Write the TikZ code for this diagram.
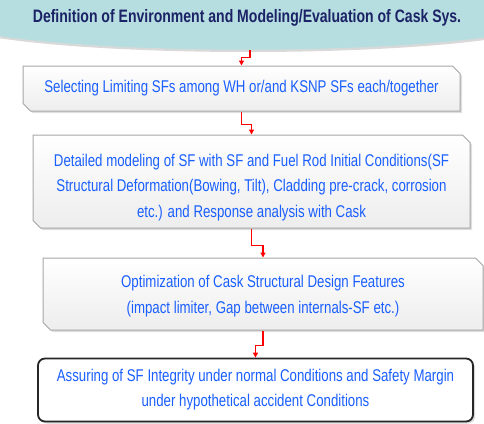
\documentclass[tikz,border=0pt]{standalone}
\usepackage{fontspec}
\setmainfont{Liberation Sans}
\newfontfamily\narrowfont{Liberation Sans}[FakeStretch=0.78]
\usetikzlibrary{positioning}
\usetikzlibrary{shapes.geometric}
\usetikzlibrary{shapes.misc}
\usetikzlibrary{shadows}
\usetikzlibrary{arrows.meta}
\definecolor{TitleTeal}{HTML}{B6DEE0}
\definecolor{TitleNavy}{HTML}{1B2266}
\definecolor{StepBlue}{HTML}{1A5FFF}
\definecolor{FlowRed}{HTML}{FF0000}
\tikzset{
  titlebox/.style={ellipse, fill=TitleTeal, draw=black!15, line width=0.6pt,
    minimum width=476pt, minimum height=64pt, inner sep=0pt,
    drop shadow={opacity=0.3, shadow xshift=1.5pt, shadow yshift=-2pt},
    font=\narrowfont\bfseries\fontsize{18}{20}\selectfont, text=TitleNavy},
  snipbox/.style={chamfered rectangle,
    chamfered rectangle corners={north east,south west},
    chamfered rectangle xsep=4pt,
    draw=black!35, line width=1pt,
    top color=white, bottom color=black!7,
    drop shadow={opacity=0.25, shadow xshift=2pt, shadow yshift=-2pt},
    inner sep=0pt, align=center, text=StepBlue,
    font=\narrowfont\fontsize{17}{25.5}\selectfont},
  goalbox/.style={rectangle, rounded corners=7pt, draw=black!85, line width=1.8pt,
    fill=white, drop shadow={opacity=0.3, shadow xshift=2pt, shadow yshift=-2pt},
    inner sep=0pt, align=center, text=StepBlue,
    font=\narrowfont\fontsize{17}{25}\selectfont},
  flow/.style={draw=FlowRed, line width=1.3pt, -{Triangle[length=5pt,width=5pt]}}
}
\begin{document}
\begin{tikzpicture}[x=1pt, y=-1pt]
  \useasboundingbox (0,0) rectangle (484,423);
  \clip (0,0) rectangle (484,423);

  % title and steps
  \node[titlebox] (title) at (247,18)
    {Definition of Environment and Modeling/Evaluation of Cask Sys.};
  \node[snipbox, minimum width=437pt, minimum height=45pt] (select) at (241.5,88.5)
    {Selecting Limiting SFs among WH or/and KSNP SFs each/together};
  \node[snipbox, minimum width=437pt, minimum height=93pt] (model) at (251.5,181.5)
    {\rule{0pt}{24pt}Detailed modeling of SF with SF and Fuel Rod Initial Conditions(SF\\
     Structural Deformation(Bowing, Tilt), Cladding pre-crack, corrosion\\
     etc.) and Response analysis with Cask};
  \node[snipbox, minimum width=440pt, minimum height=72pt] (optim) at (263,294)
    {\rule{0pt}{17pt}Optimization of Cask Structural Design Features\\
     (impact limiter, Gap between internals-SF etc.)};
  \node[goalbox, minimum width=435pt, minimum height=63pt] (assure) at (255.5,390)
    {Assuring of SF Integrity under normal Conditions and Safety Margin\\
     under hypothetical accident Conditions};

  % connectors
  \draw[flow] ([xshift=3pt]title.south) -- ++(0,7) -| (select.north);
  \draw[flow] (select.south) -- ++(0,13) -| (model.north);
  \draw[flow] (model.south) -- ++(0,17) -| (optim.north);
  \draw[flow] (optim.south) -- ++(0,15) -| (assure.north);
\end{tikzpicture}
\end{document}
